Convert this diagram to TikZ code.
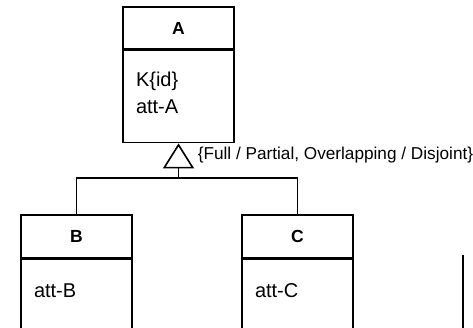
\documentclass[tikz,border=0pt]{standalone}
\usepackage{fontspec}
\setmainfont{Liberation Sans}
\usetikzlibrary{positioning,arrows.meta}

\begin{document}
\begin{tikzpicture}[x=1pt,y=-1pt,line width=1.6pt,
    head/.style={draw,minimum width=111pt,minimum height=42pt,inner sep=0pt,font=\bfseries\fontsize{17.5}{20}\selectfont},
    body/.style={draw,minimum width=111pt,inner sep=0pt},
    attr/.style={anchor=north west,align=left,inner sep=0pt,font=\fontsize{20}{27}\selectfont}]
        \useasboundingbox (0,0) rectangle (473,328);
        \clip (0,0) rectangle (473,328);
        % entity A
        \node (Ahead) [head] at (178.5,28) {A};
        \node (Abody) [body, minimum height=92pt, below=0pt of Ahead] {};
        \node (Aattr) [attr] at ([shift={(13,21.5)}]Abody.north west) {K\{id\}\\att-A};
        % entities B and C
        \node (Bhead) [head, minimum height=43pt] at (76.5,236.5) {B};
        \node (Bbody) [body, minimum height=120pt, below=0pt of Bhead] {};
        \node (Battr) [attr] at ([shift={(13,24)}]Bbody.north west) {att-B};
        \node (Chead) [head, minimum height=43pt] at (297.5,236.5) {C};
        \node (Cbody) [body, minimum height=120pt, below=0pt of Chead] {};
        \node (Cattr) [attr] at ([shift={(13,24)}]Cbody.north west) {att-C};
        % generalization
        \coordinate (join) at (178.5,178);
        \draw (Bhead.north) |- (join) -| (Chead.north);
        \draw[-{Triangle[open,length=25pt,width=31pt]}] (join) -- (Abody.south);
        \node (constraint) [anchor=west,inner sep=0pt,font=\fontsize{17.2}{20}\selectfont] at (197,155) {\{Full / Partial, Overlapping / Disjoint\}};
        % border at the right
        \coordinate (edgetop) at (463,255);
        \coordinate (edgebot) at (463,340);
        \draw[line width=1.2pt] (edgetop) -- (edgebot);
    \end{tikzpicture}
\end{document}
